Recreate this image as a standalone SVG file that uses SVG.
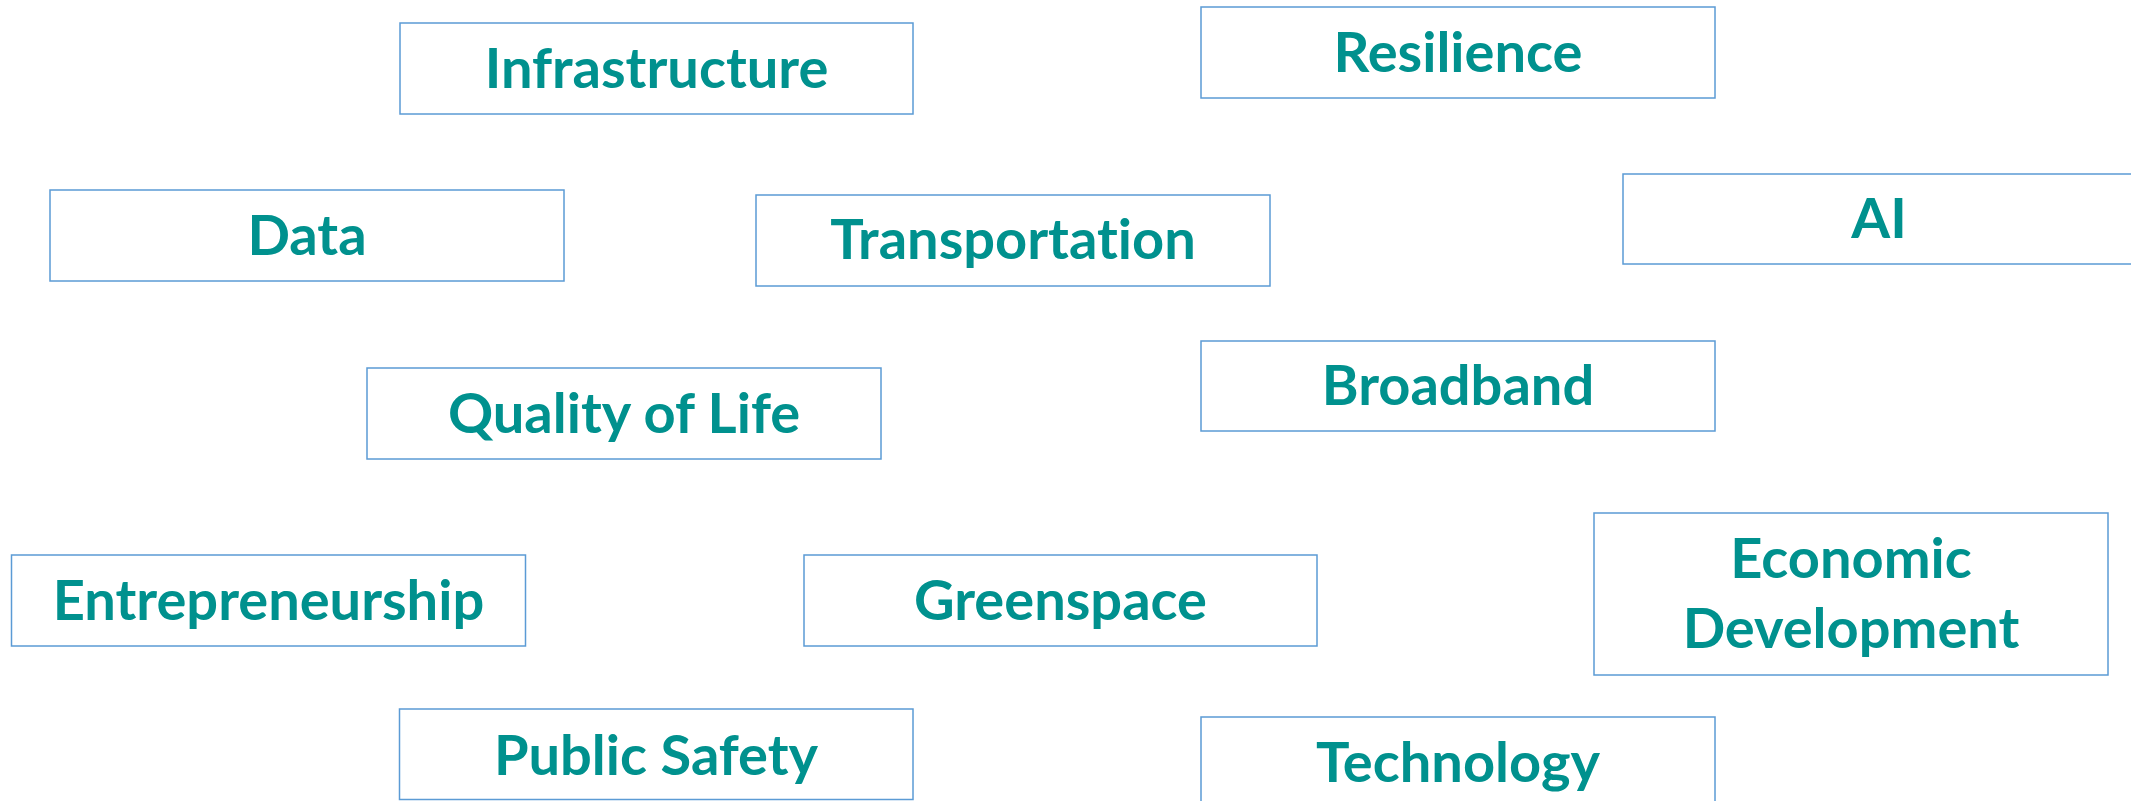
<svg xmlns="http://www.w3.org/2000/svg" width="2131" height="801" viewBox="0 0 2131 801">
<style>
.box{fill:#ffffff;stroke:#5B9BD5;stroke-width:1.5}
.lbl{font-family:Lato,"Open Sans","Liberation Sans",sans-serif;font-weight:700;font-size:56px;fill:#00918E;text-anchor:middle;font-variant-ligatures:none;font-feature-settings:"liga" 0,"clig" 0}
</style>
<rect width="2131" height="801" fill="#ffffff"/>
<g id="connectors"></g>
<g id="infrastructure"><rect class="box" x="400" y="23" width="513" height="91"/><text class="lbl" x="656.5" y="88">Infrastructure</text></g>
<g id="resilience"><rect class="box" x="1201" y="7" width="514" height="91"/><text class="lbl" x="1458" y="72">Resilience</text></g>
<g id="data"><rect class="box" x="50" y="190" width="514" height="91"/><text class="lbl" x="307" y="255">Data</text></g>
<g id="transportation"><rect class="box" x="756" y="195" width="514" height="91"/><text class="lbl" x="1013" y="259">Transportation</text></g>
<g id="ai"><rect class="box" x="1623" y="174" width="514" height="90"/><text class="lbl" x="1879" y="238">AI</text></g>
<g id="broadband"><rect class="box" x="1201" y="341" width="514" height="90"/><text class="lbl" x="1458" y="405">Broadband</text></g>
<g id="quality-of-life"><rect class="box" x="367" y="368" width="514" height="91"/><text class="lbl" x="624" y="433">Quality of Life</text></g>
<g id="entrepreneurship"><rect class="box" x="11.5" y="555" width="514" height="91"/><text class="lbl" x="268.5" y="620">Entrepreneurship</text></g>
<g id="greenspace"><rect class="box" x="804" y="555" width="513" height="91"/><text class="lbl" x="1060.5" y="620">Greenspace</text></g>
<g id="economic-development"><rect class="box" x="1594" y="513" width="514" height="162"/><text class="lbl" x="1851" y="578">Economic</text><text class="lbl" x="1851" y="648">Development</text></g>
<g id="public-safety"><rect class="box" x="399.5" y="709" width="513.5" height="90.5"/><text class="lbl" x="656" y="775">Public Safety</text></g>
<g id="technology"><rect class="box" x="1201" y="717" width="514" height="95"/><text class="lbl" x="1458" y="782">Technology</text></g>
</svg>
